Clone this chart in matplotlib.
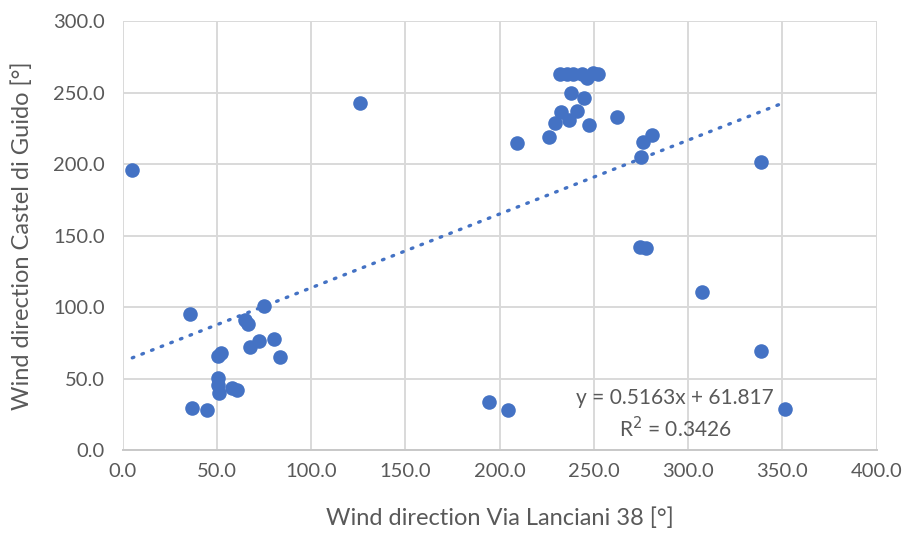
import matplotlib

matplotlib.use("Agg")
import matplotlib.pyplot as plt
import numpy as np
from matplotlib.ticker import FormatStrFormatter

# Wind direction pairs [deg]: Via Lanciani 38 (x) vs Castel di Guido (y)
via_lanciani = [
    5.1, 125.9, 35.7, 75.1, 64.9, 66.3, 67.5, 72.5, 80.4, 83.4,
    50.5, 52.0, 50.7, 50.4, 51.2, 57.8, 60.8, 36.9, 44.6,
    232.0, 235.5, 238.7, 243.5, 246.5, 249.7, 252.3, 237.7, 244.7,
    232.4, 240.8, 229.3, 236.9, 247.4, 262.1, 209.3, 226.2,
    276.2, 280.6, 275.0, 338.5, 274.4, 277.6,
    307.2, 338.5, 351.4, 194.3, 204.6,
]
castel_di_guido = [
    195.8, 242.7, 95.1, 100.9, 90.9, 87.9, 72.2, 76.2, 77.6, 64.8,
    66.0, 68.0, 50.1, 45.5, 39.7, 43.1, 42.0, 29.2, 28.0,
    262.7, 262.7, 262.7, 262.7, 260.0, 263.4, 262.7, 249.4, 246.4,
    236.1, 237.1, 228.5, 230.8, 227.3, 233.1, 214.5, 218.7,
    215.6, 220.3, 205.1, 201.6, 142.2, 141.5,
    110.7, 69.4, 28.4, 33.3, 27.9,
]

# Linear trendline coefficients
slope = 0.5163
intercept = 61.817
r_squared = 0.3426

blue = "#4472C4"
text_grey = "#595959"
grid_grey = "#d9d9d9"

plt.rcParams["font.family"] = ["Lato", "DejaVu Sans"]

fig = plt.figure(figsize=(9.10, 5.36), dpi=100)
ax = fig.add_axes([0.1348, 0.1604, 0.8286, 0.8004])

x = np.asarray(via_lanciani)
y = np.asarray(castel_di_guido)

ax.scatter(x, y, s=110, color=blue, zorder=3, linewidths=0)

x_fit = np.array([x.min(), x.max()])
ax.plot(x_fit, slope * x_fit + intercept, color=blue, linewidth=2.4,
        linestyle=(0, (0.5, 2.6)), dash_capstyle="round", zorder=2)

ax.set_xlim(0, 400)
ax.set_ylim(0, 300)
ax.set_xticks(np.arange(0, 401, 50))
ax.set_yticks(np.arange(0, 301, 50))
ax.xaxis.set_major_formatter(FormatStrFormatter("%.1f"))
ax.yaxis.set_major_formatter(FormatStrFormatter("%.1f"))

ax.grid(True, color=grid_grey, linewidth=1.4, zorder=0)
ax.set_axisbelow(True)
for side in ("top", "right", "left"):
    ax.spines[side].set_visible(False)
ax.spines["bottom"].set_color("#c8c8c8")
ax.spines["bottom"].set_linewidth(1.4)
ax.tick_params(length=0, labelsize=14.5, colors=text_grey)
ax.tick_params(axis="y", pad=13)
ax.tick_params(axis="x", pad=9)

ax.set_xlabel("Wind direction Via Lanciani 38 [°]", fontsize=17, color=text_grey, labelpad=20)
ax.set_ylabel("Wind direction Castel di Guido [°]", fontsize=17, color=text_grey, labelpad=14)

ax.text(293, 36.4, f"y = {slope}x + {intercept}", ha="center", va="center",
        fontsize=15, color=text_grey, zorder=4)
ax.text(293, 14.7, f"R$^2$ = {r_squared}", ha="center", va="center",
        fontsize=15, color=text_grey, zorder=4)

fig.savefig("out.png", dpi=100, facecolor="white")
